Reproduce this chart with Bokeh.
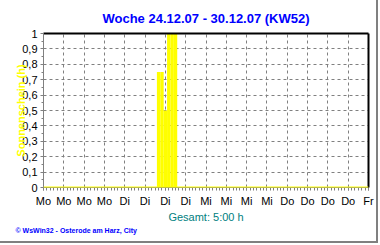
from bokeh.plotting import figure
from bokeh.models import FixedTicker, LinearAxis, Range1d, Span, Title
from bokeh.embed import file_html
from bokeh.resources import INLINE

title_text = "Woche 24.12.07 - 30.12.07 (KW52)"
total_text = "Gesamt: 5:00 h"
footer_text = "© WsWin32 - Osterode am Harz, City"
y_title = "Sonnenschein (h)"

tick_hours = [0, 6, 12, 18, 24, 30, 36, 42, 48, 54, 60, 66, 72, 78, 84, 90, 96]
tick_days = ["Mo", "Mo", "Mo", "Mo", "Di", "Di", "Di", "Di",
             "Mi", "Mi", "Mi", "Mi", "Do", "Do", "Do", "Do", "Fr"]
y_ticks = [0, 0.1, 0.2, 0.3, 0.4, 0.5, 0.6, 0.7, 0.8, 0.9, 1]
y_tick_labels = ["0", "0,1", "0,2", "0,3", "0,4", "0,5", "0,6", "0,7", "0,8", "0,9", "1"]

sun_hours = [34, 35, 36, 37, 38, 39]
sun_values = [0.75, 0.75, 0.5, 1.0, 1.0, 1.0]

FONT = "Liberation Sans"
GRAY = "#808080"

p = figure(width=378, height=243, output_backend="svg", toolbar_location=None,
           x_range=Range1d(0, 96), y_range=Range1d(0, 1),
           min_border_left=43, min_border_right=10, min_border_top=33, min_border_bottom=56,
           background_fill_color="white", border_fill_color="white")
p.outline_line_color = None
p.styles = {"border-right": "2px solid #808080", "border-bottom": "2px solid #808080"}

p.vbar(x=sun_hours, top=sun_values, width=1, fill_color="#FFFF00", line_color=None)
p.add_layout(Span(location=0, dimension="width", line_color="#FFFF00", line_width=2))

xa = p.xaxis[0]
xa.ticker = FixedTicker(ticks=tick_hours, minor_ticks=list(range(0, 97)))
xa.major_label_overrides = dict(zip(tick_hours, tick_days))
ya = p.yaxis[0]
ya.ticker = FixedTicker(ticks=y_ticks, minor_ticks=[i / 20 for i in range(21)])
ya.major_label_overrides = dict(zip(y_ticks, y_tick_labels))
for ax in (xa, ya):
    ax.axis_line_color = GRAY
    ax.major_tick_line_color = GRAY
    ax.minor_tick_line_color = GRAY
    ax.major_tick_out = 3
    ax.major_tick_in = 0
    ax.minor_tick_out = 3
    ax.minor_tick_in = 0
    ax.major_label_text_font = FONT
    ax.major_label_text_font_size = "11px"
    ax.major_label_text_color = "black"
    ax.major_label_standoff = 3
ya.minor_tick_out = 2
xa.major_label_standoff = 4

p.xgrid.ticker = FixedTicker(ticks=tick_hours)
p.ygrid.ticker = FixedTicker(ticks=y_ticks)
for g in (p.xgrid[0], p.ygrid[0]):
    g.grid_line_color = GRAY
    g.grid_line_dash = "3 3"
    g.grid_line_width = 1

for side in ("above", "right"):
    ax = LinearAxis(ticker=FixedTicker(ticks=[]), axis_line_color="black", axis_line_width=2,
                    major_tick_line_color=None, minor_tick_line_color=None,
                    major_label_text_font_size="0px")
    p.add_layout(ax, side)

p.add_layout(Title(text=title_text, align="center", offset=-15, standoff=15,
                   text_font=FONT, text_font_size="13px", text_font_style="bold",
                   text_color="#0000FF"), "above")
p.add_layout(Title(text=total_text, align="center", standoff=-1,
                   text_font=FONT, text_font_size="11px", text_font_style="normal",
                   text_color="#008080"), "below")
p.add_layout(Title(text=footer_text, align="left", offset=-28, standoff=4,
                   text_font=FONT, text_font_size="7px", text_font_style="bold",
                   text_color="#0000FF"), "below")
p.add_layout(Title(text=y_title, align="center", standoff=-14,
                   text_font=FONT, text_font_size="11px", text_font_style="bold",
                   text_color="#FFFF00"), "left")

open("out.html", "w").write(file_html(p, INLINE))
